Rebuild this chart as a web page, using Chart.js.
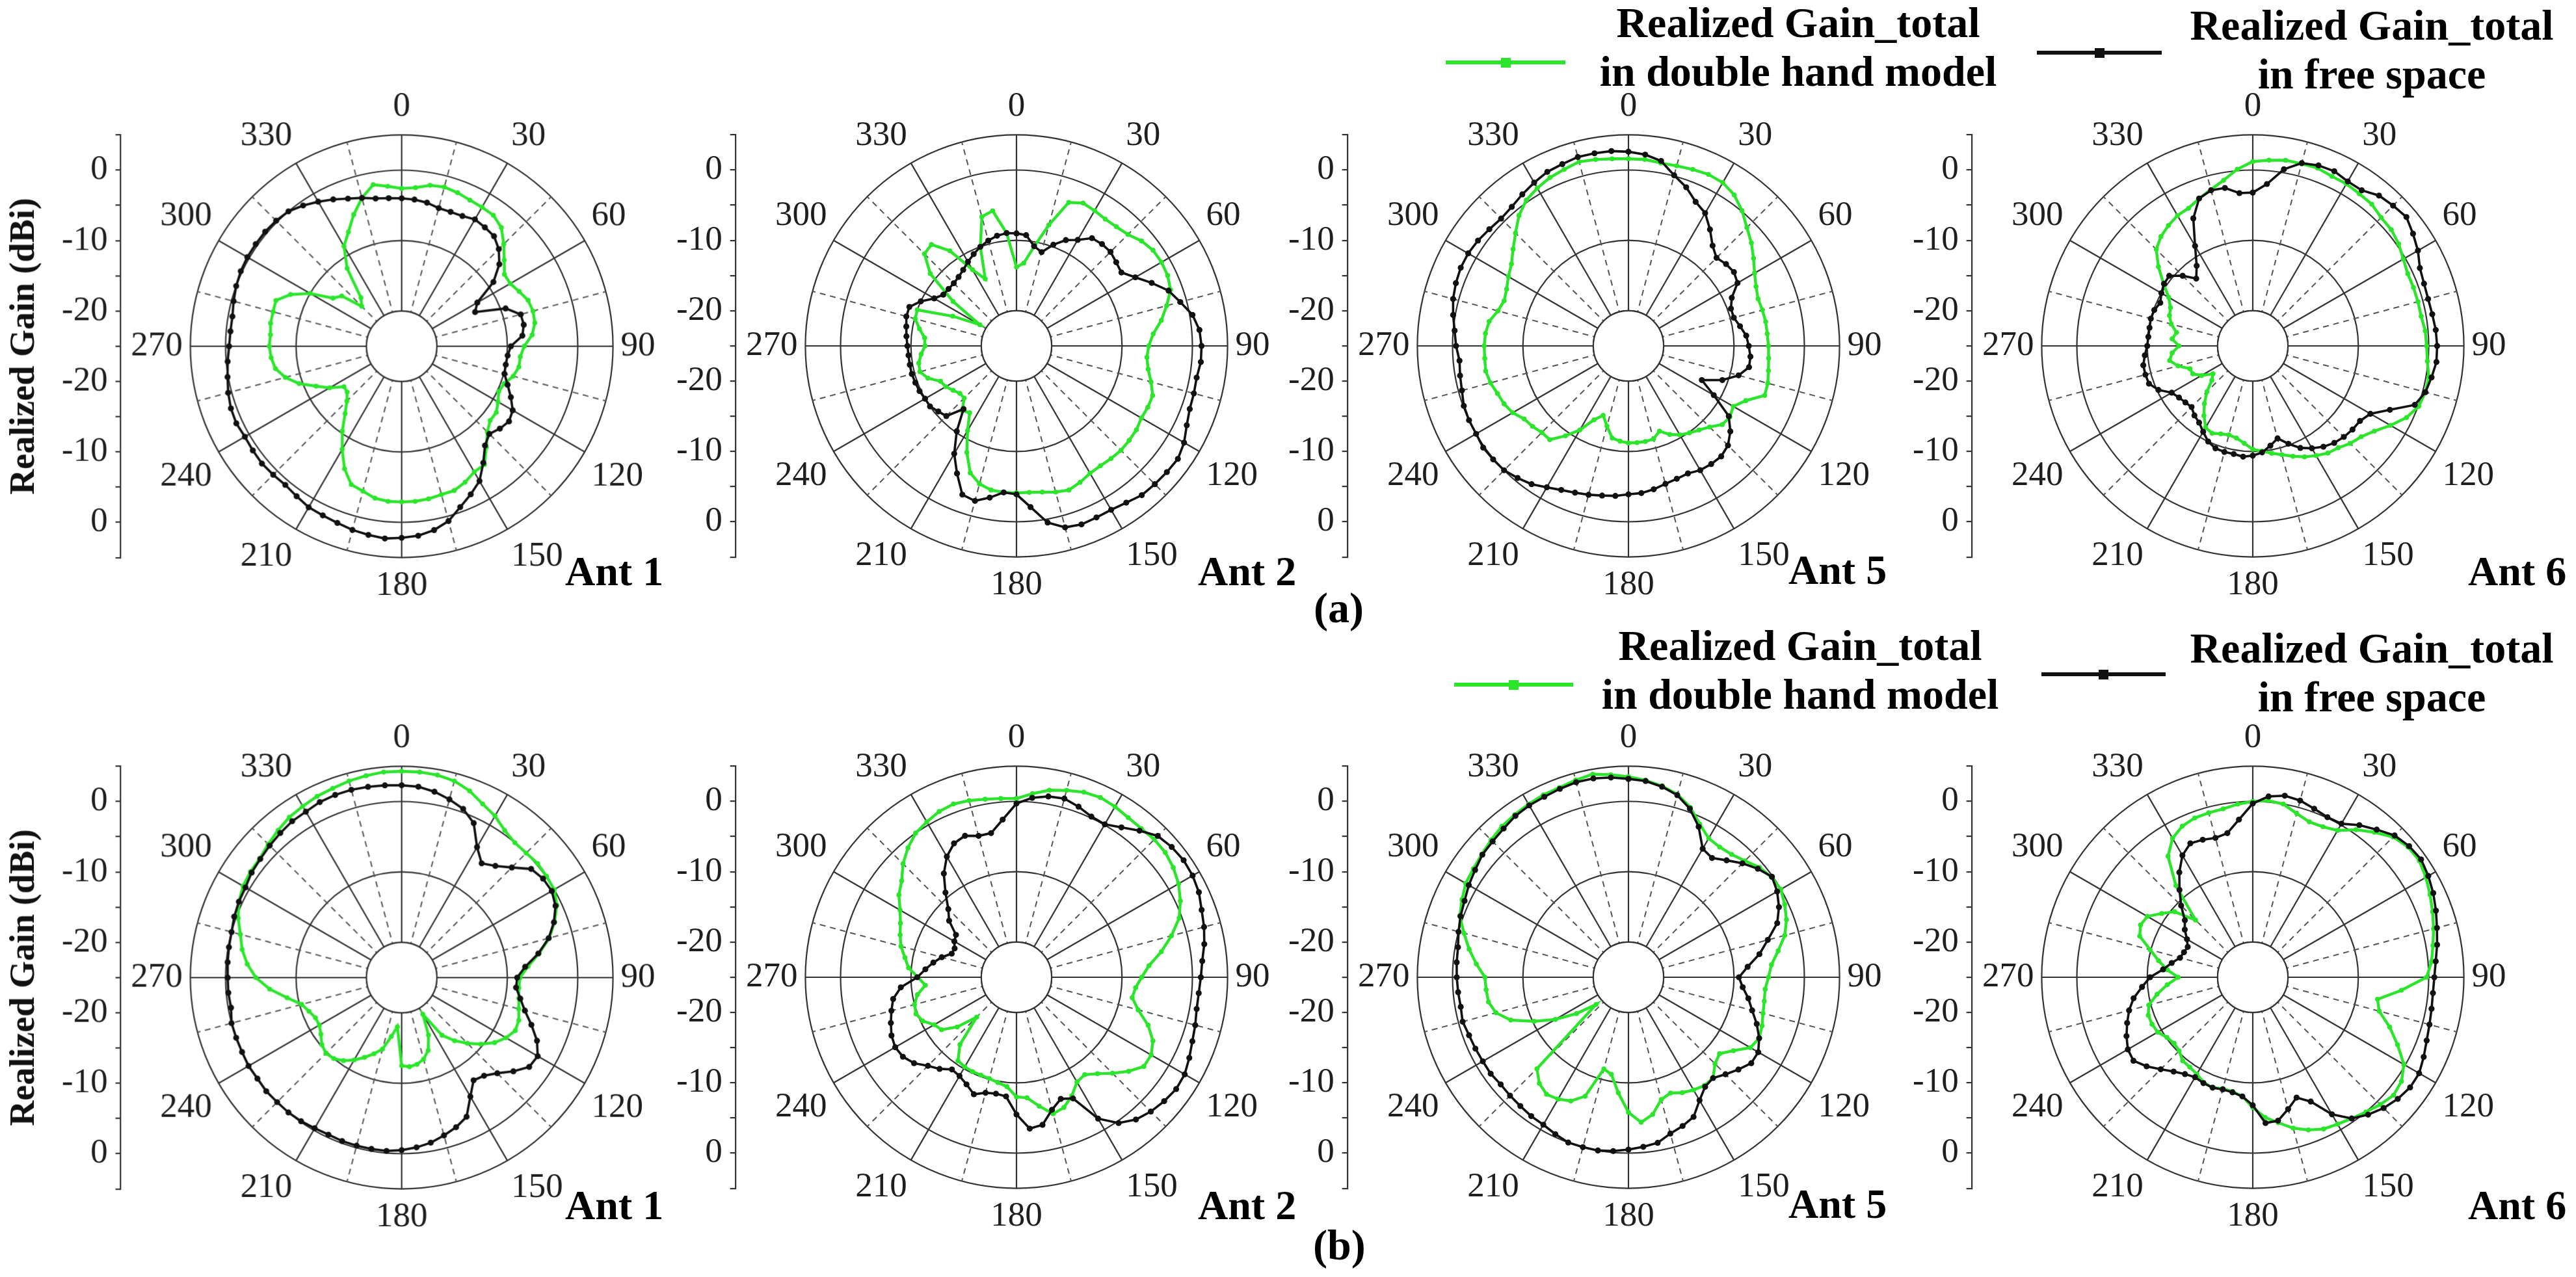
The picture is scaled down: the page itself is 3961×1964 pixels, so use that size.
<!DOCTYPE html>
<html>
<head>
<meta charset="utf-8">
<script src="https://cdn.jsdelivr.net/npm/chart.js@4.4.0/dist/chart.umd.min.js"></script>
<style>
  html, body { margin: 0; padding: 0; background: #fff; }
  body { width: 3961px; height: 1964px; position: relative; overflow: hidden;
         font-family: 'Liberation Serif', 'Times New Roman', Times, serif; }
  .plot { position: absolute; }
  .lbl { position: absolute; font-weight: bold; color: #000; white-space: nowrap; }
  .ant { font-size: 64px; line-height: 64px; }
  .leg { font-size: 66px; line-height: 75px; text-align: center; width: 800px; }
  .sample { position: absolute; height: 6px; }
  .sample i { position: absolute; left: 50%; top: 50%; width: 15px; height: 15px; margin: -7.5px 0 0 -7.5px; }
</style>
</head>
<body>

<div class="lbl leg" style="left:2365px; top:-3px;">Realized Gain_total<br>in double hand model</div>
<div class="lbl leg" style="left:3247px; top:1px;">Realized Gain_total<br>in free space</div>
<div class="sample" style="left:2223px; top:93px; width:184px; background:#2be52b;"><i style="background:#2be52b"></i></div>
<div class="sample" style="left:3132px; top:78px; width:192px; background:#111;"><i style="background:#111"></i></div>

<div class="lbl leg" style="left:2368px; top:955px;">Realized Gain_total<br>in double hand model</div>
<div class="lbl leg" style="left:3247px; top:959px;">Realized Gain_total<br>in free space</div>
<div class="sample" style="left:2236px; top:1050px; width:183px; background:#2be52b;"><i style="background:#2be52b"></i></div>
<div class="sample" style="left:3139px; top:1034px; width:191px; background:#111;"><i style="background:#111"></i></div>

<div class="lbl ant" style="left:869px; top:847px;">Ant 1</div>
<div class="lbl ant" style="left:1842px; top:847px;">Ant 2</div>
<div class="lbl ant" style="left:2750px; top:845px;">Ant 5</div>
<div class="lbl ant" style="left:3795px; top:847px;">Ant 6</div>
<div class="lbl ant" style="left:869px; top:1822px;">Ant 1</div>
<div class="lbl ant" style="left:1842px; top:1822px;">Ant 2</div>
<div class="lbl ant" style="left:2750px; top:1820px;">Ant 5</div>
<div class="lbl ant" style="left:3795px; top:1822px;">Ant 6</div>
<div class="lbl ant" style="left:2020px; top:903px; font-size:66px;">(a)</div>
<div class="lbl ant" style="left:2019px; top:1883px; font-size:66px;">(b)</div>

<script>
// angle categories (deg), 5 degree steps
const angleDeg = [0,5,10,15,20,25,30,35,40,45,50,55,60,65,70,75,80,85,90,95,100,105,110,115,
  120,125,130,135,140,145,150,155,160,165,170,175,180,185,190,195,200,205,210,215,220,225,230,235,
  240,245,250,255,260,265,270,275,280,285,290,295,300,305,310,315,320,325,330,335,340,345,350,355];

// radial rings (dBi) and the mirrored side axis
const ringTicks = [-25, -20, -10, 0, 5];
const sideTicks = [-30,-25,-20,-15,-10,-5,0,5,10,15,20,25,30];
const sideLabels = ['', '0', '', '-10', '', '-20', '', '-20', '', '-10', '', '0', ''];

// (a) row
const ant1TopFree = [-4.0,-4.1,-4.3,-4.7,-4.7,-4.6,-4.2,-4.4,-4.6,-5.5,-6.9,-9.1,
  -12.6,-13.5,-9.3,-7.5,-7.4,-7.8,-9.5,-9.9,-10.0,-9.9,-9.0,-7.9,
  -6.8,-6.4,-6.8,-7.4,-6.6,-4.8,-2.9,-1.8,-0.7,0.7,1.5,2.0,
  2.2,2.4,2.2,2.0,1.7,1.5,1.4,1.0,0.7,0.8,0.9,0.8,
  0.7,0.9,0.8,0.5,0.1,-0.2,-0.5,-0.6,-0.6,-0.3,0.0,0.2,
  0.3,0.3,0.3,0.2,0.0,-0.6,-1.3,-2.0,-2.7,-3.2,-3.7,-3.9];
const ant1TopHand = [-2.6,-2.4,-1.8,-1.6,-1.8,-2.1,-2.2,-2.3,-3.0,-4.5,-6.0,-7.2,
  -7.2,-6.6,-5.9,-5.7,-5.8,-6.4,-7.6,-8.1,-8.1,-8.6,-9.5,-9.8,
  -9.2,-8.6,-8.6,-7.8,-6.3,-4.5,-4.4,-3.7,-3.2,-3.2,-3.0,-2.9,
  -2.9,-2.9,-3.1,-3.7,-4.1,-5.8,-8.1,-10.3,-12.5,-14.0,-14.9,-15.0,
  -13.2,-11.6,-9.5,-7.9,-6.8,-6.4,-6.2,-6.3,-6.1,-6.1,-6.0,-7.6,
  -10.0,-13.1,-13.9,-17.0,-16.0,-11.5,-8.6,-7.1,-5.1,-3.2,-1.7,-2.2];

const ant2TopFree = [-9.0,-9.2,-10.6,-11.2,-9.7,-8.4,-7.6,-6.3,-6.1,-6.1,-6.5,-6.8,
  -5.5,-3.8,-2.0,-0.9,0.4,1.1,1.3,1.3,1.0,1.1,1.2,1.7,
  2.5,3.0,2.9,2.8,2.7,2.2,1.9,1.9,2.0,1.7,0.5,-2.0,
  -3.9,-4.1,-3.1,-2.2,-2.5,-5.0,-7.3,-10.2,-13.3,-10.9,-10.5,-10.0,
  -10.0,-9.8,-9.7,-9.6,-9.6,-9.6,-9.5,-9.3,-9.1,-8.8,-8.8,-10.0,
  -11.5,-12.3,-12.4,-12.4,-12.2,-11.8,-11.2,-10.6,-10.0,-9.5,-9.1,-8.9];
const ant2TopHand = [-13.8,-13.2,-10.7,-7.2,-3.3,-2.6,-2.8,-3.0,-2.9,-2.6,-1.8,-1.3,
  -1.2,-1.3,-1.7,-2.9,-4.1,-5.5,-6.2,-6.4,-6.0,-5.2,-4.4,-4.4,
  -4.5,-4.2,-4.1,-4.0,-4.1,-4.2,-4.1,-3.6,-3.2,-3.5,-3.9,-4.1,
  -4.1,-4.1,-4.2,-4.7,-5.8,-8.3,-11.1,-13.4,-13.0,-14.5,-14.5,-14.0,
  -13.4,-13.1,-11.6,-10.8,-10.9,-11.4,-12.0,-11.9,-11.0,-10.1,-10.0,-15.0,
  -19.0,-14.0,-9.0,-6.5,-6.2,-8.5,-12.5,-14.5,-10.0,-6.0,-5.5,-8.9];

const ant5TopFree = [2.6,2.3,1.7,0.1,-1.0,-2.4,-3.2,-4.8,-6.4,-7.3,-6.9,-6.7,
  -7.1,-8.8,-9.5,-9.5,-8.9,-8.2,-7.9,-7.6,-7.6,-8.8,-10.8,-13.5,
  -11.0,-7.6,-6.1,-5.0,-4.5,-4.5,-4.6,-5.0,-4.9,-4.7,-4.3,-4.0,
  -3.9,-3.6,-3.4,-3.1,-2.8,-2.4,-1.8,-1.0,-0.5,0.0,0.1,0.2,
  0.0,0.0,-0.1,-0.5,-0.7,-0.9,-0.5,-0.2,0.3,0.8,1.1,1.3,
  1.3,1.1,0.8,0.6,0.8,1.3,1.8,2.3,2.5,2.8,2.8,2.8];
const ant5TopHand = [1.6,1.6,1.4,1.5,1.7,1.9,1.8,1.2,0.1,-1.2,-2.2,-3.3,
  -4.3,-5.0,-5.4,-5.3,-5.2,-5.2,-5.1,-5.0,-4.8,-4.5,-4.4,-6.6,
  -7.8,-7.4,-7.6,-8.7,-9.4,-9.9,-10.4,-11.1,-12.1,-11.3,-11.2,-11.2,
  -11.2,-11.4,-11.7,-13.2,-14.5,-13.4,-11.2,-9.4,-7.6,-7.6,-7.2,-6.9,
  -6.0,-5.5,-5.2,-4.7,-4.4,-4.5,-4.5,-4.6,-4.9,-5.8,-6.2,-5.9,
  -5.3,-4.7,-3.6,-2.3,-0.8,0.3,0.9,1.4,1.7,2.1,1.9,1.7];

const ant6TopFree = [-3.2,-1.9,0.5,1.9,2.3,2.4,2.0,2.0,2.9,3.2,3.5,2.8,
  2.1,1.2,0.9,0.8,0.9,1.1,1.2,1.2,0.8,0.4,-0.5,-3.5,
  -5.7,-6.4,-6.5,-6.7,-7.0,-7.5,-8.2,-9.0,-10.2,-11.4,-10.6,-9.8,
  -9.4,-9.2,-9.4,-9.4,-9.5,-10.0,-10.9,-11.7,-12.1,-12.7,-12.5,-12.2,
  -11.7,-10.2,-9.3,-9.2,-9.2,-9.6,-10.0,-10.1,-10.1,-10.0,-10.1,-10.5,
  -10.0,-9.6,-9.5,-10.9,-12.5,-11.1,-8.6,-5.0,-2.7,-2.1,-2.2,-3.2];
const ant6TopHand = [1.2,1.5,1.8,1.8,1.9,1.6,1.6,1.4,1.3,0.8,0.7,0.3,
  -0.3,-0.7,-0.7,-0.7,-0.7,-0.4,-0.3,-0.1,0.4,0.4,0.1,-0.9,
  -2.4,-3.9,-4.9,-5.4,-6.1,-6.4,-7.0,-7.6,-8.3,-9.0,-9.5,-10.0,
  -10.3,-11.1,-11.7,-11.9,-11.7,-11.3,-11.6,-12.9,-14.3,-15.8,-17.4,-18.1,
  -16.6,-15.6,-15.5,-14.0,-13.0,-13.5,-14.5,-13.5,-14.0,-13.0,-12.4,-12.1,
  -11.2,-9.5,-7.5,-5.6,-4.7,-4.1,-3.6,-3.4,-2.7,-2.0,-1.1,0.2];

// (b) row
const ant1BotFree = [2.3,2.2,1.8,1.2,0.5,-0.8,-3.6,-5.2,-4.3,-2.9,-1.0,-0.5,
  -0.4,-0.9,-2.0,-3.4,-5.3,-7.4,-8.6,-8.7,-7.9,-6.9,-5.4,-3.8,
  -2.7,-2.9,-4.3,-5.8,-6.8,-7.2,-5.5,-3.2,-2.4,-1.8,-1.2,-0.8,
  -0.5,-0.3,-0.3,-0.3,-0.3,-0.4,-0.3,-0.1,0.0,0.0,0.1,0.0,
  0.1,0.0,0.0,0.0,-0.4,-0.3,-0.3,-0.2,-0.1,0.0,0.3,0.5,
  0.6,1.0,1.2,1.5,1.8,2.1,2.2,2.5,2.6,2.6,2.5,2.4];
const ant1BotHand = [4.3,4.3,4.2,3.9,3.2,2.2,1.5,0.5,0.0,0.0,0.2,0.1,
  0.0,-0.7,-1.9,-3.3,-5.2,-7.0,-8.2,-8.3,-8.1,-7.8,-7.3,-7.2,
  -7.9,-8.9,-10.3,-11.8,-13.3,-15.0,-19.0,-16.0,-14.0,-13.0,-12.5,-12.3,
  -12.5,-18.0,-16.5,-14.5,-13.5,-12.5,-11.5,-10.6,-10.0,-9.8,-10.2,-11.0,
  -11.5,-11.5,-11.0,-10.3,-8.5,-6.2,-4.3,-3.0,-2.0,-1.3,-0.3,0.5,
  1.0,1.2,1.3,1.8,2.3,2.8,3.1,3.4,3.6,3.9,4.1,4.3];

const ant2BotFree = [-0.3,0.6,1.1,1.3,0.8,0.2,0.1,1.0,2.2,3.4,3.8,4.0,
  3.9,3.6,3.0,2.6,2.1,1.5,1.2,1.0,1.0,1.3,1.6,2.1,
  2.6,2.7,2.4,2.0,1.4,0.3,-1.8,-6.0,-6.6,-5.5,-3.7,-3.4,
  -5.5,-8.0,-8.2,-8.0,-7.3,-8.2,-8.8,-9.0,-8.0,-7.2,-6.0,-5.3,
  -5.1,-5.4,-6.0,-6.6,-7.2,-8.5,-10.9,-12.0,-13.0,-14.0,-15.2,-15.3,
  -14.8,-14.5,-12.5,-11.3,-9.3,-7.0,-5.2,-4.0,-3.6,-4.2,-4.2,-2.5];
const ant2BotHand = [0.4,1.2,2.0,2.5,3.0,3.2,3.0,2.7,2.6,2.7,2.6,2.2,
  1.6,0.7,-0.4,-2.2,-4.1,-6.1,-7.2,-8.0,-8.3,-7.1,-5.1,-3.6,
  -2.9,-2.9,-4.2,-5.7,-7.1,-8.1,-7.8,-6.4,-5.3,-4.9,-6.4,-7.8,
  -8.0,-9.4,-9.8,-10.1,-10.2,-10.2,-10.3,-10.5,-12.5,-17.0,-14.0,-12.0,
  -11.5,-10.3,-9.8,-10.0,-10.7,-12.0,-11.0,-9.6,-8.9,-8.0,-7.4,-6.8,
  -5.9,-4.6,-3.7,-2.2,-1.0,0.0,0.5,1.0,1.2,1.0,0.7,0.5];

const ant5BotFree = [3.2,3.0,2.5,1.8,0.5,-1.4,-3.9,-4.3,-3.3,-2.1,-1.0,-0.1,
  -0.6,-1.4,-2.5,-4.5,-6.1,-8.0,-9.3,-8.7,-7.7,-6.8,-5.6,-4.5,
  -3.7,-3.7,-4.6,-5.5,-6.3,-6.0,-4.8,-3.1,-2.5,-2.0,-1.1,-0.8,
  -0.5,-0.2,0.0,0.0,0.0,-0.4,-0.8,-0.9,-1.1,-1.2,-1.3,-1.1,
  -1.1,-1.0,-0.9,-0.6,-0.8,-0.7,-0.6,-0.5,-0.4,0.0,0.4,0.7,
  1.2,1.6,2.1,2.3,2.6,3.0,3.2,3.3,3.5,3.7,3.7,3.5];
const ant5BotHand = [3.5,3.1,2.6,1.9,0.7,-1.0,-2.2,-2.4,-2.2,-1.6,-0.7,-0.2,
  0.0,-0.5,-1.1,-2.0,-3.4,-4.6,-5.1,-5.5,-5.4,-5.2,-4.8,-4.5,
  -5.0,-6.8,-8.1,-7.6,-6.3,-6.2,-6.5,-6.9,-7.5,-7.0,-5.2,-4.3,
  -5.8,-8.5,-11.0,-11.5,-7.0,-5.6,-5.0,-4.7,-5.3,-6.6,-19.0,-16.0,
  -13.0,-10.2,-7.2,-5.5,-4.8,-4.7,-4.6,-3.3,-2.0,-0.8,0.5,1.1,
  1.7,1.9,2.2,2.6,3.0,3.2,3.4,3.6,3.7,4.0,4.3,3.9];

const ant6BotFree = [-0.3,0.8,1.2,1.0,0.5,0.1,0.2,1.4,2.4,3.5,4.0,4.2,
  3.8,3.3,2.7,2.1,1.6,1.1,0.8,0.7,0.8,1.0,1.3,1.8,
  2.3,2.3,1.9,1.3,0.5,-0.5,-2.5,-5.5,-6.8,-5.6,-4.3,-4.2,
  -6.8,-8.0,-8.4,-8.5,-8.3,-8.4,-8.6,-8.2,-7.5,-6.5,-5.3,-4.3,
  -4.5,-5.2,-6.0,-6.8,-7.8,-9.2,-10.4,-12.2,-13.3,-14.3,-14.6,-14.8,
  -14.2,-13.2,-12.4,-10.6,-8.8,-6.8,-5.0,-4.0,-4.2,-4.5,-4.2,-2.5];
const ant6BotHand = [0.0,0.2,0.0,-0.9,-1.5,-1.4,-0.9,0.6,1.9,3.2,3.8,3.9,
  3.4,2.8,2.2,1.6,1.0,0.5,-0.3,-3.8,-7.0,-6.4,-4.3,-2.3,
  -0.2,0.8,1.1,0.6,0.0,-0.5,-0.9,-1.2,-1.9,-2.8,-4.0,-5.0,
  -6.5,-8.0,-8.5,-8.6,-8.3,-8.5,-9.1,-9.4,-9.5,-10.2,-10.4,-10.1,
  -9.4,-9.2,-9.2,-9.7,-11.2,-12.8,-14.4,-12.8,-11.4,-9.9,-7.9,-7.4,
  -7.7,-9.2,-10.5,-13.5,-8.0,-4.0,-2.2,-1.3,-0.9,-0.8,-0.7,-0.3];

const SERIF = "'Liberation Serif', 'Times New Roman', Times, serif";
const GREEN = '#2be52b';
const BLACK = '#111111';
const FRAME_R = 325;   // radius of the +5 dBi frame
const AXIS_GAP = 432;  // side axis line to plot centre

// white hub over the centre, bounded by the -20 dBi ring
const hubPlugin = {
  id: 'hub',
  beforeDatasetsDraw(chart) {
    const r = chart.scales.r;
    const ctx = chart.ctx;
    const rad = r.getDistanceFromCenterForValue(-20);
    ctx.save();
    ctx.beginPath();
    ctx.arc(r.xCenter, r.yCenter, rad, 0, Math.PI * 2);
    ctx.fillStyle = '#fff';
    ctx.fill();
    ctx.lineWidth = 2.2;
    ctx.strokeStyle = '#333';
    ctx.stroke();
    ctx.restore();
  }
};

// stretch the side axis over the polar frame (top and bottom edge = +5 dBi)
const sideAxisPlugin = {
  id: 'sideAxis',
  afterLayout(chart) {
    const r = chart.scales.r, y = chart.scales.y;
    y.top = r.yCenter - r.drawingArea;
    y.bottom = r.yCenter + r.drawingArea;
    y.height = y.bottom - y.top;
    y.configure();
  }
};

function PolarPlot(cx, cy, free, hand, withTitle) {
  const box = document.createElement('div');
  box.className = 'plot';
  let W = withTitle ? 1070 : 980, H = 800;
  box.style.width = W + 'px';
  box.style.height = H + 'px';
  const cv = document.createElement('canvas');
  box.appendChild(cv);
  document.body.appendChild(box);

  const chart = new Chart(cv.getContext('2d'), {
    type: 'radar',
    data: {
      labels: angleDeg.map(String),
      datasets: [{
        label: 'free space',
        data: free,
        borderColor: BLACK,
        backgroundColor: BLACK,
        pointBackgroundColor: BLACK,
        borderWidth: 3.6,
        pointRadius: 4.6,
        pointBorderWidth: 0,
        fill: false
      }, {
        label: 'double hand model',
        data: hand,
        borderColor: GREEN,
        backgroundColor: GREEN,
        pointBackgroundColor: GREEN,
        borderWidth: 4.4,
        pointRadius: 3.8,
        pointBorderWidth: 0,
        fill: false
      }]
    },
    options: {
      responsive: true,
      maintainAspectRatio: false,
      animation: false,
      layout: { padding: 0 },
      elements: { line: { tension: 0 } },
      plugins: { legend: { display: false }, tooltip: { enabled: false } },
      scales: {
        r: {
          min: -25,
          max: 5,
          afterBuildTicks: s => { s.ticks = ringTicks.map(v => ({ value: v })); },
          ticks: { display: false },
          grid: { circular: true, color: '#333', lineWidth: 2.2 },
          angleLines: {
            color: c => c.index % 6 === 0 ? '#333' : (c.index % 6 === 3 ? '#555' : 'rgba(0,0,0,0)'),
            lineWidth: c => c.index % 6 === 0 ? 2.2 : (c.index % 6 === 3 ? 2 : 0),
            borderDash: c => c.index % 6 === 3 ? [9, 7] : []
          },
          pointLabels: {
            font: { family: SERIF, size: 53 },
            color: '#1e1e1e',
            padding: 12,
            callback: (lab, i) => i % 6 === 0 ? lab : ''
          }
        },
        y: {
          type: 'linear',
          position: 'left',
          min: -30,
          max: 30,
          afterBuildTicks: s => { s.ticks = sideTicks.map(v => ({ value: v })); },
          ticks: {
            autoSkip: false,
            font: { family: SERIF, size: 53 },
            color: '#1e1e1e',
            padding: 12,
            callback: (v, i) => sideLabels[i]
          },
          grid: { drawOnChartArea: false, drawTicks: true, tickLength: 8, color: '#333', lineWidth: 2.2 },
          border: { display: true, color: '#333', width: 2.2 },
          title: {
            display: withTitle,
            text: 'Realized Gain (dBi)',
            font: { family: SERIF, size: 54, weight: 'bold' },
            color: '#111',
            padding: { top: 0, bottom: 12 }
          }
        }
      }
    },
    plugins: [sideAxisPlugin, hubPlugin]
  });

  // size the canvas so the frame radius and axis gap match the figure
  for (let k = 0; k < 5; k++) {
    const r = chart.scales.r, y = chart.scales.y;
    const dR = FRAME_R - r.drawingArea;
    const dX = AXIS_GAP - (r.xCenter - y.right);
    if (Math.abs(dR) < 0.5 && Math.abs(dX) < 0.5) break;
    H += 2 * dR;
    W += 2 * dX;
    box.style.width = W + 'px';
    box.style.height = H + 'px';
    chart.resize();
  }
  const r = chart.scales.r;
  box.style.left = (cx - r.xCenter) + 'px';
  box.style.top = (cy - r.yCenter) + 'px';
  return chart;
}

PolarPlot(617, 532, ant1TopFree, ant1TopHand, true);
PolarPlot(1563, 532, ant2TopFree, ant2TopHand, false);
PolarPlot(2504, 532, ant5TopFree, ant5TopHand, false);
PolarPlot(3464, 532, ant6TopFree, ant6TopHand, false);
PolarPlot(617, 1503, ant1BotFree, ant1BotHand, true);
PolarPlot(1563, 1503, ant2BotFree, ant2BotHand, false);
PolarPlot(2504, 1503, ant5BotFree, ant5BotHand, false);
PolarPlot(3464, 1503, ant6BotFree, ant6BotHand, false);
</script>
</body>
</html>
